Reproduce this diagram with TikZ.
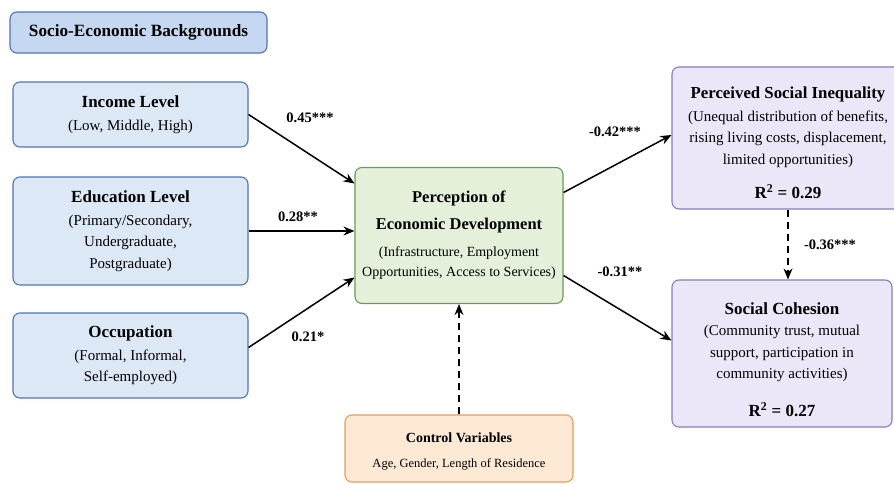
\documentclass[tikz,border=0pt]{standalone}
\usepackage{fontspec}
\setmainfont{Liberation Serif}
\usetikzlibrary{arrows.meta,calc}

\definecolor{bluefill}{HTML}{DDE8F7}
\definecolor{bluehead}{HTML}{C6D8F1}
\definecolor{blueline}{HTML}{4F75B5}
\definecolor{greenfill}{HTML}{E5F0DA}
\definecolor{greenline}{HTML}{6D9A56}
\definecolor{purplefill}{HTML}{ECE7F8}
\definecolor{purpleline}{HTML}{8A7BBF}
\definecolor{orangefill}{HTML}{FDE9D4}
\definecolor{orangeline}{HTML}{E3A05C}

\begin{document}
\begin{tikzpicture}[x=1pt,y=-1pt,>={Stealth[length=11pt,width=9pt]},
  box/.style={draw,rounded corners=7pt,line width=1.1pt,align=center,inner sep=0pt,
    font=\fontsize{15}{21.5}\selectfont},
  bluebox/.style={box,draw=blueline,fill=bluefill,minimum width=235pt},
  purplebox/.style={box,draw=purpleline,fill=purplefill},
  path/.style={->,line width=1.5pt},
  dashpath/.style={->,line width=1.3pt,dash pattern=on 7pt off 5pt},
  coef/.style={font=\fontsize{14.5}{16}\selectfont\bfseries}]
\clip (0,0) rectangle (894,484);

\node[box,draw=blueline,fill=bluehead,minimum width=257pt,minimum height=41pt,
  font=\fontsize{17.2}{20}\selectfont\bfseries] (seb) at (138.5,32.5) {Socio-Economic Backgrounds};

\node[bluebox,minimum height=65pt] (inc) at (130.5,114.5)
  {\textbf{\fontsize{17}{20}\selectfont Income Level}\\[1pt] (Low, Middle, High)};
\node[bluebox,minimum height=108pt] (edu) at (130.5,231)
  {\textbf{\fontsize{17}{20}\selectfont Education Level}\\[1pt] (Primary/Secondary,\\ Undergraduate,\\ Postgraduate)};
\node[bluebox,minimum height=85pt] (occ) at (130.5,355.5)
  {\textbf{\fontsize{17}{20}\selectfont Occupation}\\[1pt] (Formal, Informal,\\ Self-employed)};

\node[box,draw=greenline,fill=greenfill,minimum width=208pt,minimum height=136pt,
  font=\fontsize{14}{20}\selectfont] (pcp) at (459,235.5)
  {\textbf{\fontsize{16.5}{20}\selectfont Perception of}\\[7pt]
   \textbf{\fontsize{16.5}{20}\selectfont Economic Development}\\[7pt]
   (Infrastructure, Employment\\ Opportunities, Access to Services)};

\node[purplebox,minimum width=232pt,minimum height=142pt] (psi) at (788,138)
  {\rule{0pt}{22pt}\textbf{\fontsize{16.8}{20}\selectfont Perceived Social Inequality}\\[1pt]
   (Unequal distribution of benefits,\\ rising living costs, displacement,\\ limited opportunities)\\[13pt]
   \textbf{\fontsize{17}{20}\selectfont R\textsuperscript{2} = 0.29}};
\node[purplebox,minimum width=220pt,minimum height=147pt] (sc) at (782,353.5)
  {\rule{0pt}{24pt}\textbf{\fontsize{17}{20}\selectfont Social Cohesion}\\[0pt]
   (Community trust, mutual\\ support, participation in\\ community activities)\\[16pt]
   \textbf{\fontsize{17}{20}\selectfont R\textsuperscript{2} = 0.27}};

\node[box,draw=orangeline,fill=orangefill,minimum width=228pt,minimum height=67pt,
  font=\fontsize{12.5}{25}\selectfont] (ctl) at (459,448.5)
  {\rule{0pt}{16pt}\textbf{\fontsize{14}{16}\selectfont Control Variables}\\ Age, Gender, Length of Residence};

\draw[path] (inc.east) -- ([yshift=52pt]pcp.west);
\draw[path] (edu.east) -- (edu.east -| pcp.west);
\draw[path] ([yshift=8pt]occ.east) -- ([yshift=-42pt]pcp.west);
\draw[path] ([yshift=43pt]pcp.east) -- ([yshift=3pt]psi.west);
\draw[path] ([yshift=-40pt]pcp.east) -- ([yshift=13pt]sc.west);
\draw[dashpath] (psi.south) -- (psi.south |- sc.north);
\draw[dashpath] (ctl.north) -- (pcp.south);

\node[coef] (c1) at (310,118) {0.45***};
\node[coef] (c2) at (298,217) {0.28**};
\node[coef] (c3) at (308,337) {0.21*};
\node[coef] (c4) at (615,132) {-0.42***};
\node[coef] (c5) at (620,272) {-0.31**};
\node[coef] (c6) at (830,245) {-0.36***};
\end{tikzpicture}
\end{document}
